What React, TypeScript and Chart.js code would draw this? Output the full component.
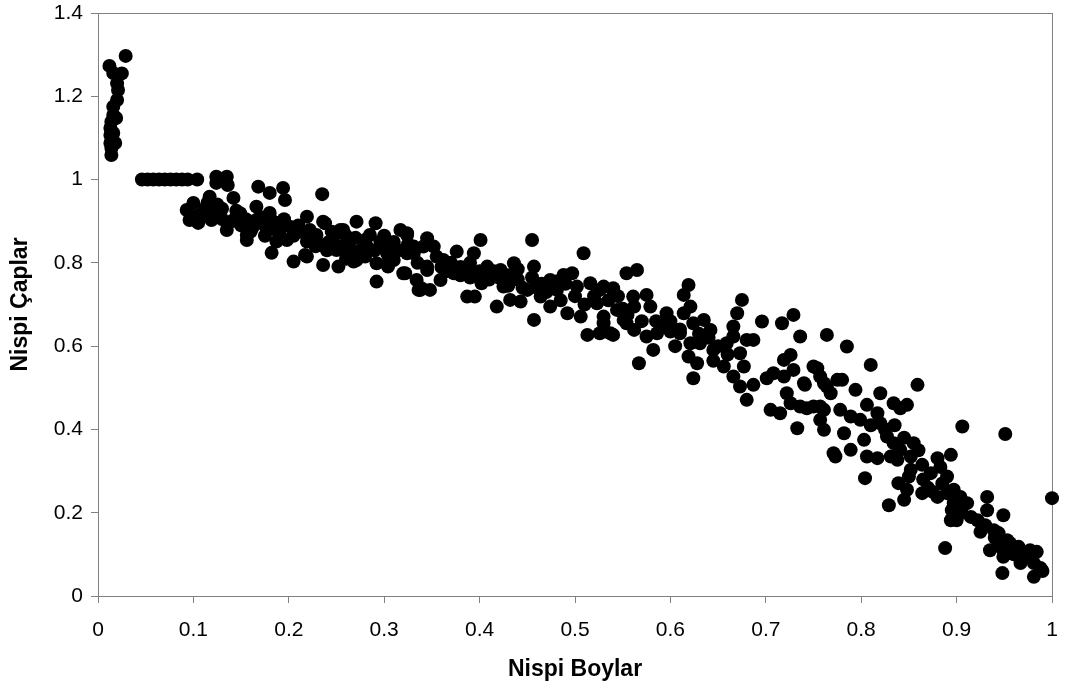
import React, { useEffect, useRef } from "react";
import { Chart, registerables } from "chart.js";

Chart.register(...registerables);

// Nispi Boylar (relative height) / Nispi Çaplar (relative diameter)
// Group A: top-left stem cluster
const stemX = [0.029, 0.012, 0.025, 0.016, 0.020, 0.021, 0.020, 0.016, 0.016, 0.019, 0.014, 0.013, 0.016, 0.013, 0.013, 0.018, 0.014, 0.014];
const stemY = [1.297, 1.273, 1.255, 1.256, 1.231, 1.215, 1.191, 1.175, 1.155, 1.148, 1.139, 1.124, 1.112, 1.107, 1.088, 1.088, 1.076, 1.059];

// Group B: plateau and first part of the band
const bandBX = [
  0.046, 0.052, 0.058, 0.064, 0.070, 0.076, 0.082, 0.088, 0.094, 0.104,
  0.124, 0.135, 0.124, 0.136, 0.142, 0.168, 0.194, 0.196, 0.180, 0.100,
  0.093, 0.096, 0.105, 0.117, 0.117, 0.135, 0.156, 0.156, 0.166, 0.180,
  0.182, 0.205, 0.219, 0.219, 0.187, 0.201, 0.145, 0.110, 0.119, 0.149,
  0.235, 0.184, 0.166, 0.177, 0.191, 0.187, 0.198, 0.212, 0.219, 0.229,
  0.238, 0.233, 0.247, 0.257, 0.236, 0.252, 0.250, 0.264, 0.271, 0.268,
  0.282, 0.291, 0.285, 0.296, 0.303, 0.292, 0.292, 0.317, 0.324, 0.310,
  0.320, 0.331, 0.334, 0.336, 0.331, 0.236, 0.222, 0.217, 0.254, 0.271,
  0.304, 0.339, 0.341, 0.345, 0.128, 0.140, 0.150, 0.162, 0.172, 0.125,
  0.130, 0.112, 0.228, 0.242, 0.255, 0.262, 0.275, 0.300, 0.310, 0.270,
  0.105, 0.115, 0.130, 0.145, 0.155, 0.160, 0.170, 0.175, 0.190, 0.195,
  0.205, 0.210, 0.225, 0.240, 0.245, 0.260, 0.265, 0.280, 0.290, 0.300,
  0.305, 0.315, 0.325, 0.335, 0.280, 0.260
];
const bandBY = [
  1.0, 1.0, 1.0, 1.0, 1.0, 1.0, 1.0, 1.0, 1.0, 1.0,
  1.007, 1.007, 0.992, 0.987, 0.956, 0.983, 0.980, 0.951, 0.968, 0.944,
  0.927, 0.903, 0.896, 0.959, 0.927, 0.879, 0.867, 0.855, 0.935, 0.920,
  0.824, 0.803, 0.911, 0.815, 0.879, 0.887, 0.911, 0.911, 0.903, 0.919,
  0.965, 0.899, 0.903, 0.879, 0.891, 0.851, 0.855, 0.875, 0.851, 0.867,
  0.895, 0.843, 0.863, 0.879, 0.795, 0.791, 0.831, 0.851, 0.899, 0.803,
  0.839, 0.895, 0.867, 0.851, 0.823, 0.799, 0.755, 0.879, 0.867, 0.807,
  0.775, 0.839, 0.759, 0.735, 0.823, 0.899, 0.879, 0.819, 0.879, 0.807,
  0.791, 0.739, 0.839, 0.791, 0.920, 0.900, 0.890, 0.885, 0.895, 0.940,
  0.930, 0.930, 0.840, 0.850, 0.840, 0.820, 0.830, 0.840, 0.850, 0.860,
  0.915, 0.945, 0.905, 0.925, 0.905, 0.875, 0.910, 0.865, 0.870, 0.905,
  0.865, 0.890, 0.860, 0.830, 0.875, 0.865, 0.830, 0.855, 0.830, 0.865,
  0.810, 0.830, 0.845, 0.800, 0.815, 0.810
];

// Group C: middle of the band
const bandCX = [
  0.324, 0.345, 0.401, 0.455, 0.509, 0.322, 0.324, 0.338, 0.348, 0.352,
  0.345, 0.362, 0.376, 0.359, 0.373, 0.387, 0.395, 0.394, 0.387, 0.402,
  0.408, 0.418, 0.422, 0.432, 0.436, 0.443, 0.425, 0.450, 0.457, 0.457,
  0.464, 0.474, 0.474, 0.488, 0.497, 0.481, 0.492, 0.506, 0.502, 0.516,
  0.526, 0.540, 0.513, 0.526, 0.540, 0.523, 0.530, 0.544, 0.554, 0.565,
  0.551, 0.562, 0.562, 0.567, 0.530, 0.540, 0.537, 0.530, 0.561, 0.575,
  0.554, 0.579, 0.575, 0.582, 0.586, 0.596, 0.600, 0.610, 0.619, 0.614,
  0.621, 0.614, 0.624, 0.635, 0.642, 0.621, 0.619, 0.631, 0.628, 0.624,
  0.645, 0.656, 0.659, 0.666, 0.666, 0.670, 0.675, 0.680, 0.687, 0.673,
  0.666, 0.677, 0.673, 0.687, 0.680, 0.370, 0.380, 0.410, 0.415, 0.440,
  0.445, 0.465, 0.470, 0.485, 0.360, 0.390, 0.430,
  0.355, 0.365, 0.380, 0.390, 0.400, 0.405, 0.420, 0.430, 0.440, 0.455,
  0.460, 0.475, 0.480, 0.490, 0.500, 0.510, 0.520, 0.535, 0.545, 0.550,
  0.555, 0.570, 0.585, 0.590, 0.600, 0.605, 0.610, 0.630, 0.640, 0.650,
  0.660, 0.645
];
const bandCY = [
  0.871, 0.859, 0.855, 0.855, 0.823, 0.775, 0.823, 0.735, 0.735, 0.839,
  0.783, 0.807, 0.827, 0.759, 0.775, 0.719, 0.719, 0.823, 0.783, 0.751,
  0.791, 0.695, 0.783, 0.711, 0.799, 0.707, 0.743, 0.735, 0.791, 0.663,
  0.719, 0.695, 0.759, 0.771, 0.775, 0.735, 0.679, 0.671, 0.743, 0.751,
  0.735, 0.735, 0.627, 0.631, 0.627, 0.703, 0.671, 0.687, 0.775, 0.783,
  0.663, 0.695, 0.639, 0.559, 0.743, 0.739, 0.631, 0.655, 0.719, 0.723,
  0.655, 0.695, 0.623, 0.591, 0.631, 0.679, 0.635, 0.631, 0.747, 0.723,
  0.695, 0.679, 0.655, 0.663, 0.639, 0.607, 0.575, 0.607, 0.559, 0.523,
  0.591, 0.551, 0.607, 0.623, 0.647, 0.679, 0.711, 0.615, 0.615, 0.583,
  0.527, 0.551, 0.503, 0.507, 0.471, 0.800, 0.770, 0.760, 0.780, 0.760,
  0.740, 0.750, 0.730, 0.710, 0.790, 0.800, 0.770,
  0.815, 0.780, 0.790, 0.765, 0.780, 0.765, 0.765, 0.745, 0.785, 0.765,
  0.740, 0.740, 0.755, 0.750, 0.720, 0.700, 0.720, 0.710, 0.720, 0.690,
  0.675, 0.660, 0.660, 0.650, 0.660, 0.600, 0.640, 0.630, 0.620, 0.600,
  0.580, 0.565
];

// Group D: lower right part of the band
const bandDX = [
  0.696, 0.717, 0.729, 0.736, 0.764, 0.701, 0.708, 0.719, 0.726, 0.719,
  0.729, 0.722, 0.726, 0.740, 0.750, 0.757, 0.764, 0.768, 0.705, 0.715,
  0.736, 0.750, 0.761, 0.733, 0.761, 0.771, 0.775, 0.785, 0.810, 0.859,
  0.754, 0.741, 0.761, 0.780, 0.794, 0.820, 0.743, 0.757, 0.757, 0.778,
  0.789, 0.799, 0.806, 0.817, 0.820, 0.834, 0.848, 0.841, 0.782, 0.789,
  0.773, 0.803, 0.806, 0.817, 0.804, 0.827, 0.834, 0.831, 0.841, 0.838,
  0.855, 0.852, 0.852, 0.850, 0.864, 0.839, 0.848, 0.845, 0.864, 0.829,
  0.906, 0.951, 1.000, 0.880, 0.894, 0.873, 0.883, 0.890, 0.880, 0.890,
  0.897, 0.904, 0.911, 0.897, 0.894, 0.900, 0.895, 0.922, 0.932, 0.932,
  0.949, 0.925, 0.939, 0.944, 0.935, 0.949, 0.953, 0.956, 0.965, 0.977,
  0.984, 0.949, 0.967, 0.981, 0.988, 0.981, 0.948, 0.888,
  0.865, 0.870, 0.875, 0.885, 0.900, 0.905, 0.915, 0.930, 0.940, 0.945,
  0.960, 0.970, 0.975, 0.990, 0.810, 0.825, 0.835, 0.845, 0.860
];
const bandDY = [
  0.659, 0.655, 0.675, 0.623, 0.627, 0.523, 0.535, 0.567, 0.579, 0.527,
  0.543, 0.487, 0.463, 0.511, 0.551, 0.527, 0.503, 0.487, 0.447, 0.439,
  0.455, 0.455, 0.447, 0.403, 0.399, 0.343, 0.519, 0.599, 0.555, 0.507,
  0.547, 0.507, 0.511, 0.519, 0.495, 0.487, 0.451, 0.455, 0.423, 0.447,
  0.431, 0.423, 0.459, 0.439, 0.415, 0.463, 0.459, 0.451, 0.391, 0.351,
  0.335, 0.375, 0.335, 0.331, 0.283, 0.383, 0.367, 0.335, 0.351, 0.327,
  0.367, 0.335, 0.303, 0.287, 0.315, 0.271, 0.255, 0.231, 0.247, 0.218,
  0.407, 0.389, 0.235, 0.331, 0.339, 0.295, 0.310, 0.287, 0.238, 0.247,
  0.255, 0.238, 0.223, 0.223, 0.182, 0.182, 0.206, 0.182, 0.238, 0.206,
  0.194, 0.154, 0.158, 0.151, 0.110, 0.110, 0.134, 0.127, 0.118, 0.110,
  0.106, 0.094, 0.079, 0.079, 0.067, 0.046, 0.055, 0.115,
  0.280, 0.260, 0.250, 0.270, 0.210, 0.200, 0.190, 0.170, 0.140, 0.120,
  0.100, 0.095, 0.100, 0.060, 0.410, 0.400, 0.410, 0.380, 0.350
];

const xTickStep = 0.1;
const yTickStep = 0.2;

const FONT = "'Liberation Sans', Arial, Helvetica, sans-serif";
const AXIS_GRAY = "#808080";

const framePlugin = {
  id: "frame",
  beforeDatasetsDraw(chart: any) {
    const { ctx, chartArea } = chart;
    ctx.save();
    ctx.strokeStyle = AXIS_GRAY;
    ctx.lineWidth = 1;
    ctx.strokeRect(
      Math.round(chartArea.left) + 0.5,
      Math.round(chartArea.top) + 0.5,
      Math.round(chartArea.right - chartArea.left),
      Math.round(chartArea.bottom - chartArea.top)
    );
    ctx.restore();
  },
};

function zip(xs: number[], ys: number[]) {
  return xs.map((x, i) => ({ x, y: ys[i] }));
}

const fmt = (v: any) => String(Number(Number(v).toFixed(2)));

export default function App() {
  const canvasRef = useRef<HTMLCanvasElement | null>(null);

  useEffect(() => {
    if (!canvasRef.current) return;
    const points = [
      ...zip(stemX, stemY),
      ...zip(bandBX, bandBY),
      ...zip(bandCX, bandCY),
      ...zip(bandDX, bandDY),
    ];
    const chart = new Chart(canvasRef.current, {
      type: "scatter",
      data: {
        datasets: [
          {
            label: "Nispi Çaplar",
            data: points,
            backgroundColor: "#000000",
            borderColor: "#000000",
            borderWidth: 0,
            pointRadius: 7,
            pointHoverRadius: 7,
            clip: false,
          },
        ],
      },
      plugins: [framePlugin],
      options: {
        responsive: false,
        animation: false,
        events: [],
        layout: { padding: { top: 13, right: 14, left: 0, bottom: 0 } },
        plugins: {
          legend: { display: false },
          tooltip: { enabled: false },
        },
        scales: {
          x: {
            type: "linear",
            min: 0,
            max: 1,
            afterFit: (s: any) => {
              s.height = 96;
              s.paddingLeft = 0;
              s.paddingRight = 0;
            },
            ticks: {
              stepSize: xTickStep,
              color: "#000",
              padding: 15,
              font: { family: FONT, size: 21 },
              maxRotation: 0,
              autoSkip: false,
              callback: fmt,
            },
            grid: {
              drawOnChartArea: false,
              drawTicks: true,
              tickLength: 7,
              color: AXIS_GRAY,
            },
            border: { display: true, color: AXIS_GRAY },
            title: {
              display: true,
              text: "Nispi Boylar",
              color: "#000",
              font: { family: FONT, size: 23, weight: "bold" },
              padding: { top: 0, bottom: 9 },
            },
          },
          y: {
            type: "linear",
            min: 0,
            max: 1.4,
            afterFit: (s: any) => {
              s.width = 98;
              s.paddingTop = 0;
              s.paddingBottom = 0;
            },
            ticks: {
              stepSize: yTickStep,
              color: "#000",
              padding: 8,
              font: { family: FONT, size: 21 },
              autoSkip: false,
              callback: fmt,
            },
            grid: {
              drawOnChartArea: false,
              drawTicks: true,
              tickLength: 7,
              color: AXIS_GRAY,
            },
            border: { display: true, color: AXIS_GRAY },
            title: {
              display: true,
              text: "Nispi Çaplar",
              color: "#000",
              font: { family: FONT, size: 23, weight: "bold" },
              padding: { top: 7, bottom: 0 },
            },
          },
        },
      },
    });
    return () => chart.destroy();
  }, []);

  return (
    <div style={{ position: "fixed", left: 0, top: 0, width: 1066, height: 692, background: "#fff" }}>
      <canvas ref={canvasRef} width={1066} height={692} style={{ display: "block" }} />
    </div>
  );
}
